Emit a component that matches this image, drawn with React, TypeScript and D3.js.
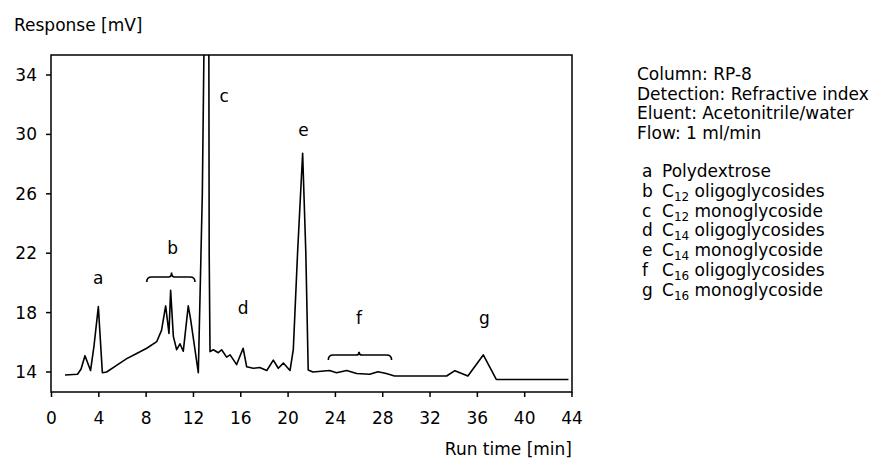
import React from "react";
import * as d3 from "d3";

const traceTime = [1.14, 2.2, 2.5, 2.83, 3.3, 3.6, 3.96, 4.3, 4.66, 5.5, 6.36, 7.2, 8.05, 8.9, 9.3, 9.65, 9.93, 10.07, 10.3, 10.58, 10.86, 11.14, 11.56, 11.77, 12.41, 12.75, 12.9, 13.3, 13.33, 13.4, 13.68, 14.1, 14.38, 14.8, 15.1, 15.65, 16.2, 16.5, 17.05, 17.6, 18.2, 18.75, 19.17, 19.6, 20.16, 20.44, 20.8, 21.23, 21.5, 21.7, 22.1, 23.5, 24.1, 24.95, 25.8, 26.9, 27.6, 28.3, 29.0, 33.4, 34.1, 35.2, 36.5, 37.6, 43.7];
const traceResponse = [13.8, 13.85, 14.2, 15.1, 14.1, 15.8, 18.4, 13.95, 14.0, 14.45, 14.9, 15.25, 15.6, 16.05, 16.8, 18.45, 16.6, 19.5, 16.4, 15.5, 15.9, 15.4, 18.45, 17.5, 13.95, 26, 36.5, 36.5, 22, 15.37, 15.5, 15.3, 15.5, 15.0, 15.15, 14.5, 15.6, 14.35, 14.25, 14.3, 14.1, 14.8, 14.25, 14.6, 14.1, 15.5, 22, 28.73, 22, 14.13, 14.0, 14.1, 13.95, 14.1, 13.9, 13.85, 14.02, 13.9, 13.73, 13.73, 14.09, 13.73, 15.15, 13.5, 13.5];

const xTicks = [0, 4, 8, 12, 16, 20, 24, 28, 32, 36, 40, 44];
const yTicks = [14, 18, 22, 26, 30, 34];

const peakLabels = ["a", "b", "c", "d", "e", "f", "g"];
const peakLabelTime = [3.95, 10.25, 14.6, 16.2, 21.3, 26.0, 36.6];
const peakLabelResponse = [19.9, 21.95, 32.2, 17.9, 29.9, 17.2, 17.2];

const bracketTime = [[8.05, 10.15, 12.13], [23.4, 26.0, 28.75]];
const bracketResponse = [[20.4, 20.7], [15.14, 15.37]];

const infoLines = ["Column: RP-8", "Detection: Refractive index", "Eluent: Acetonitrile/water", "Flow: 1 ml/min"];
const legendKeys = ["a", "b", "c", "d", "e", "f", "g"];
const legendSub = ["", "12", "12", "14", "14", "16", "16"];
const legendText = ["Polydextrose", "oligoglycosides", "monoglycoside", "oligoglycosides", "monoglycoside", "oligoglycosides", "monoglycoside"];

const W = 875, H = 459;
const M = { left: 51, right: 572, top: 55, bottom: 392 };
const FONT = "'DejaVu Sans', sans-serif";

export default function App() {
  const x = d3.scaleLinear().domain([0, 44]).range([51.5, 572]);
  const y = d3.scaleLinear().domain([14, 34]).range([372, 75]);
  const pts = traceTime.map((t, i) => [t, traceResponse[i]] as [number, number]);
  const line = d3.line<[number, number]>().x(d => x(d[0])).y(d => y(d[1]));

  const bracketPath = (k: number) => {
    const [t0, tc, t1] = bracketTime[k];
    const [vb, vt] = bracketResponse[k];
    const x0 = x(t0), xc = x(tc), x1 = x(t1), yb = y(vb), yt = y(vt);
    const r = 5;
    return `M${x0},${yb + r} Q${x0},${yb} ${x0 + r},${yb} L${xc - 3},${yb} Q${xc},${yb} ${xc},${yt} Q${xc},${yb} ${xc + 3},${yb} L${x1 - r},${yb} Q${x1},${yb} ${x1},${yb + r}`;
  };

  return (
    <svg width={W} height={H} style={{ position: "absolute", left: 0, top: 0, background: "#fff" }} fontFamily={FONT}>
      <defs>
        <clipPath id="plot">
          <rect x={M.left} y={M.top} width={M.right - M.left} height={M.bottom - M.top} />
        </clipPath>
      </defs>
      <rect x={M.left} y={M.top} width={M.right - M.left} height={M.bottom - M.top} fill="none" stroke="#000" strokeWidth={1.5} />
      {xTicks.map(t => (
        <g key={"x" + t}>
          <line x1={x(t)} x2={x(t)} y1={M.bottom} y2={M.bottom + 5} stroke="#000" strokeWidth={1.5} />
          <text x={x(t)} y={424} textAnchor="middle" fontSize={17}>{t}</text>
        </g>
      ))}
      {yTicks.map(v => (
        <g key={"y" + v}>
          <line x1={M.left - 5} x2={M.left} y1={y(v)} y2={y(v)} stroke="#000" strokeWidth={1.5} />
          <text x={37} y={y(v) + 6} textAnchor="end" fontSize={17}>{v}</text>
        </g>
      ))}
      <text x={14} y={31} fontSize={17}>Response [mV]</text>
      <text x={572} y={455} textAnchor="end" fontSize={17}>Run time [min]</text>
      <path d={line(pts) || ""} fill="none" stroke="#000" strokeWidth={1.6} clipPath="url(#plot)" strokeLinejoin="round" />
      {[0, 1].map(k => (
        <path key={"br" + k} d={bracketPath(k)} fill="none" stroke="#000" strokeWidth={1.6} />
      ))}
      {peakLabels.map((l, i) => (
        <text key={"pl" + l} x={x(peakLabelTime[i])} y={y(peakLabelResponse[i])} textAnchor="middle" fontSize={17}>{l}</text>
      ))}
      {infoLines.map((s, i) => (
        <text key={"info" + i} x={637} y={80 + i * 19.5} fontSize={17}>{s}</text>
      ))}
      {legendKeys.map((k, i) => (
        <g key={"lg" + k}>
          <text x={642} y={177 + i * 19.8} fontSize={17}>{k}</text>
          <text x={662} y={177 + i * 19.8} fontSize={17}>
            {legendSub[i] ? (
              <>
                <tspan>C</tspan>
                <tspan fontSize={12} dy={4}>{legendSub[i]}</tspan>
                <tspan dy={-4}>{" " + legendText[i]}</tspan>
              </>
            ) : (
              <tspan>{legendText[i]}</tspan>
            )}
          </text>
        </g>
      ))}
    </svg>
  );
}
